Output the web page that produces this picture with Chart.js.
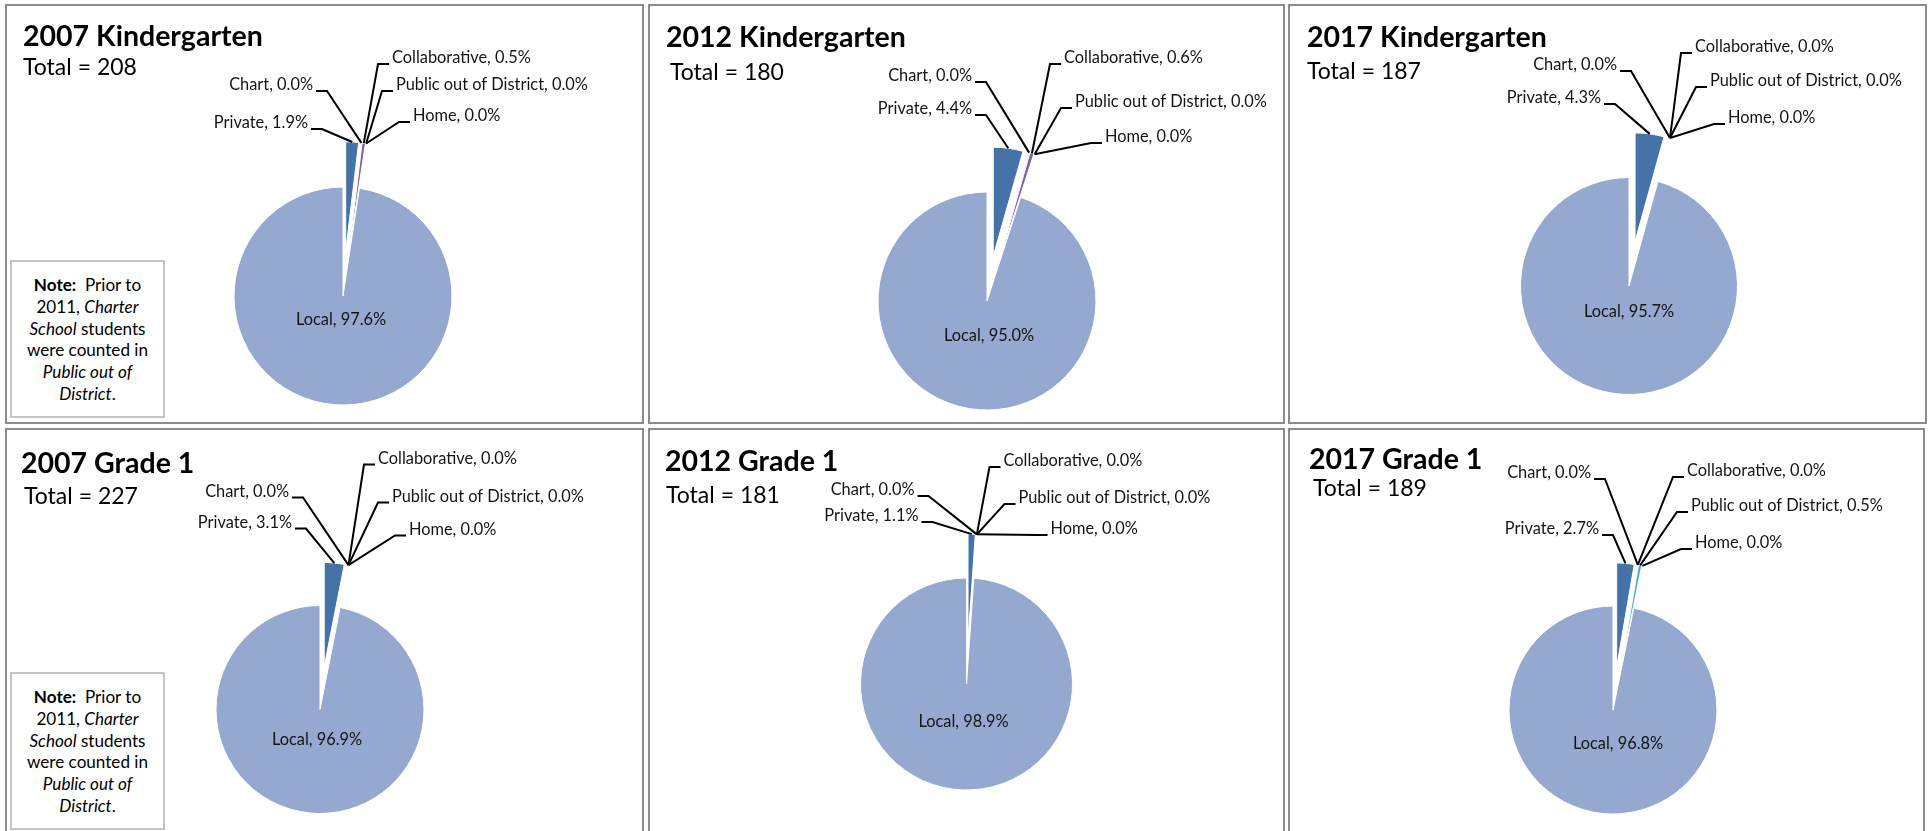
<!DOCTYPE html>
<html>
<head>
<meta charset="utf-8">
<script src="https://cdn.jsdelivr.net/npm/chart.js@4.4.0/dist/chart.umd.min.js"></script>
<style>
    body { margin: 0; background: #fff; }
    #page { position: relative; width: 1931px; height: 831px; overflow: hidden; font-family: Lato, sans-serif; }
    .panel { position: absolute; box-sizing: border-box; border: 2px solid #8c8c8c; }
    .title { position: absolute; font-weight: bold; color: #000; white-space: nowrap; line-height: 1; }
    .total { position: absolute; color: #000; white-space: nowrap; line-height: 1; }
    .note { position: absolute; box-sizing: border-box; border: 2px solid #c4c4c4; background: #fff; text-align: center; color: #000; line-height: 21.8px; padding-top: 12px; }
    canvas { position: absolute; }
</style>
</head>
<body>
<div id="page"></div>
<script>
    // data (percent of enrolled students)
    var categories = ['Private', 'Chart', 'Collaborative', 'Public out of District', 'Home', 'Local'];
    var chartTitles = ['2007 Kindergarten', '2012 Kindergarten', '2017 Kindergarten', '2007 Grade 1', '2012 Grade 1', '2017 Grade 1'];
    var totals = [208, 180, 187, 227, 181, 189];
    var k2007 = [1.9, 0.0, 0.5, 0.0, 0.0, 97.6];
    var k2012 = [4.4, 0.0, 0.6, 0.0, 0.0, 95.0];
    var k2017 = [4.3, 0.0, 0.0, 0.0, 0.0, 95.7];
    var g2007 = [3.1, 0.0, 0.0, 0.0, 0.0, 96.9];
    var g2012 = [1.1, 0.0, 0.0, 0.0, 0.0, 98.9];
    var g2017 = [2.7, 0.0, 0.0, 0.5, 0.0, 96.8];
    var seriesValues = [k2007, k2012, k2017, g2007, g2012, g2017];
    var noteHtml = '<b>Note:</b>&nbsp; Prior to<br>2011, <i>Charter</i><br><i>School</i> students<br>were counted in<br><i>Public out of</i><br><i>District</i>.';

    var sliceColors = ['#4572A7', '#AA4643', '#8064A2', '#4BACC6', '#F79646', '#95A9D0'];
    var EXPLODE = 0.415;

    // page layout of each panel: frame, pie centre/radius, text anchors, label elbows (dx, dy from centre, side)
    var layouts = [
        {box: [5, 4, 644, 424], center: [343, 296], radius: 109, title: [23, 36], total: [23, 67], note: [10, 260, 165, 418], inside: [-2, 23],
            elbows: [[-21, -167, -1], [-16, -205, -1], [35, -232, 1], [39, -205, 1], [56, -174, 1]]},
        {box: [648, 4, 1285, 424], center: [987, 301], radius: 109, title: [666, 37], total: [670, 72], note: null, inside: [2, 34],
            elbows: [[-1, -186, -1], [-1, -219, -1], [63, -237, 1], [74, -193, 1], [104, -158, 1]]},
        {box: [1288, 4, 1927, 424], center: [1629, 286], radius: 108.5, title: [1307, 37], total: [1307, 71], note: null, inside: [0, 25],
            elbows: [[-14, -182, -1], [2, -215, -1], [52, -233, 1], [67, -199, 1], [85, -162, 1]]},
        {box: [5, 428, 644, 850], center: [320, 709.5], radius: 104, title: [21, 463], total: [24, 496], note: [10, 672, 165, 830], inside: [-3, 30],
            elbows: [[-14, -181, -1], [-17, -212, -1], [44, -245, 1], [58, -207, 1], [75, -174, 1]]},
        {box: [648, 428, 1285, 850], center: [966.5, 684], radius: 106, title: [665, 461], total: [666, 495], note: null, inside: [-3, 37],
            elbows: [[-34, -162, -1], [-38, -188, -1], [23, -217, 1], [38, -180, 1], [70, -149, 1]]},
        {box: [1288, 428, 1925, 850], center: [1613, 710], radius: 104, title: [1309, 459], total: [1313, 488], note: null, inside: [5, 33],
            elbows: [[0, -175, -1], [-8, -231, -1], [60, -233, 1], [64, -198, 1], [68, -161, 1]]}
    ];

    var page = document.getElementById('page');
    var measureCtx = document.createElement('canvas').getContext('2d');

    // font size that gives the sample text the width seen in the reference
    function fitSize(text, weight, target) {
        measureCtx.font = weight + ' 100px Lato';
        return 100 * target / measureCtx.measureText(text).width;
    }

    var labelSize = fitSize('Public out of District, 0.0%', 'normal', 192);
    var titleSize = fitSize('2007 Kindergarten', 'bold', 240);
    var totalSize = fitSize('Total = 208', 'normal', 114);
    var noteSize = fitSize('were counted in', 'normal', 121);

    function addDiv(cls, x0, y0, html, extra) {
        var div = document.createElement('div');
        div.className = cls;
        div.style.left = x0 + 'px';
        div.style.top = y0 + 'px';
        div.innerHTML = html;
        if (extra) {
            Object.keys(extra).forEach(k => { div.style[k] = extra[k]; });
        }
        page.appendChild(div);
        return div;
    }

    function formatPct(v) {
        return v.toFixed(1) + '%';
    }

    // pull every slice except the last (Local) away from the centre, like Excel's point explosion
    var explodePlugin = {
        id: 'explodeSlices',
        afterDatasetsUpdate: function (chart) {
            var arcs = chart.getDatasetMeta(0).data;
            arcs.forEach((arc, i) => {
                if (i === arcs.length - 1) {
                    return;
                }
                var mid = (arc.startAngle + arc.endAngle) / 2;
                var d = EXPLODE * arc.outerRadius;
                arc.x += Math.cos(mid) * d;
                arc.y += Math.sin(mid) * d;
            });
        }
    };

    function makeLabelPlugin(layout, values) {
        return {
            id: 'sliceLabels',
            afterDatasetsDraw: function (chart) {
                var ctx = chart.ctx;
                var arcs = chart.getDatasetMeta(0).data;
                var last = arcs.length - 1;
                var cx = arcs[last].x;
                var cy = arcs[last].y;
                var capHalf = labelSize * 0.358;
                ctx.save();
                ctx.font = labelSize + 'px Lato';
                ctx.fillStyle = '#141414';
                ctx.strokeStyle = '#000';
                ctx.lineWidth = 2;
                ctx.textBaseline = 'alphabetic';

                arcs.forEach((arc, i) => {
                    var text = categories[i] + ', ' + formatPct(values[i]);
                    if (i === last) {
                        ctx.textAlign = 'center';
                        ctx.fillText(text, cx + layout.inside[0], cy + layout.inside[1] + capHalf);
                        return;
                    }
                    var mid = (arc.startAngle + arc.endAngle) / 2;
                    var ax = arc.x + Math.cos(mid) * arc.outerRadius;
                    var ay = arc.y + Math.sin(mid) * arc.outerRadius;
                    var el = layout.elbows[i];
                    var ex = cx + el[0];
                    var ey = cy + el[1];
                    var side = el[2];
                    ctx.beginPath();
                    ctx.moveTo(ax, ay);
                    ctx.lineTo(ex, ey);
                    ctx.lineTo(ex + side * 11, ey);
                    ctx.stroke();
                    ctx.textAlign = side < 0 ? 'right' : 'left';
                    ctx.fillText(text, ex + side * 14, ey - 1);
                });
                ctx.restore();
            }
        };
    }

    layouts.forEach((layout, p) => {
        var box = layout.box;
        var w = box[2] - box[0];
        var h = box[3] - box[1];

        var frame = addDiv('panel', box[0], box[1], '');
        frame.style.width = w + 'px';
        frame.style.height = h + 'px';

        var canvas = document.createElement('canvas');
        canvas.width = w;
        canvas.height = h;
        canvas.style.left = box[0] + 'px';
        canvas.style.top = box[1] + 'px';
        page.appendChild(canvas);

        // pad the chart area so that its centre lands on the pie centre
        var cx = layout.center[0] - box[0];
        var cy = layout.center[1] - box[1];
        var padding = {
            left: Math.max(0, 2 * cx - w),
            right: Math.max(0, w - 2 * cx),
            top: Math.max(0, 2 * cy - h),
            bottom: Math.max(0, h - 2 * cy)
        };

        new Chart(canvas, {
            type: 'pie',
            data: {
                labels: categories,
                datasets: [{
                    data: seriesValues[p],
                    backgroundColor: sliceColors,
                    borderColor: '#fff',
                    borderWidth: 1,
                    clip: false
                }]
            },
            options: {
                responsive: false,
                animation: false,
                events: [],
                radius: layout.radius,
                layout: {padding: padding},
                plugins: {
                    legend: {display: false},
                    title: {display: false},
                    tooltip: {enabled: false}
                }
            },
            plugins: [explodePlugin, makeLabelPlugin(layout, seriesValues[p])]
        });

        addDiv('title', layout.title[0], layout.title[1] - 0.529 * titleSize, chartTitles[p], {fontSize: titleSize + 'px'});
        addDiv('total', layout.total[0], layout.total[1] - 0.529 * totalSize, 'Total = ' + totals[p], {fontSize: totalSize + 'px'});

        if (layout.note) {
            var n = layout.note;
            addDiv('note', n[0], n[1], noteHtml, {
                width: (n[2] - n[0]) + 'px',
                height: (n[3] - n[1]) + 'px',
                fontSize: noteSize + 'px'
            });
        }
    });
</script>
</body>
</html>
